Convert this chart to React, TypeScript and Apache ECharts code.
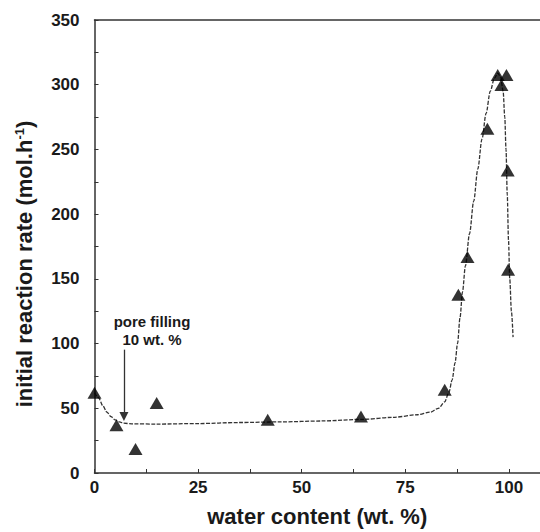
import React, { useEffect, useRef } from "react";
import * as echarts from "echarts";

// Measured points (water content wt.%, initial reaction rate mol.h-1)
const waterContent = [0, 5.3, 9.9, 15.0, 41.8, 64.3, 84.5, 87.8, 90.0, 94.8, 97.3, 98.2, 99.4, 99.7, 99.8];
const reactionRate = [62, 36.8, 18.5, 54, 41.2, 43.7, 64.3, 137.7, 166.8, 265.9, 307.6, 299.8, 307.6, 233.7, 157];

// Dashed fitted curve
const fitX = [0, 1, 2, 3, 4, 5, 6, 7, 9, 15, 25, 35, 45, 55, 65, 72, 78, 81, 83, 84.5, 85.5, 86.3, 87, 87.6, 88.2, 88.8, 89.5, 90.5, 91.5, 92.5, 93.5, 94.5, 95.5, 96.5, 97.3, 98, 98.6, 99, 99.3, 99.6, 99.9, 100.2, 100.6, 101];
const fitY = [62, 58, 52, 47, 43.5, 41, 39.5, 38.5, 38, 37.8, 38.2, 39, 39.5, 40.2, 41.5, 43, 45, 47, 50, 55, 62, 72, 85, 100, 120, 140, 160, 185, 210, 235, 258, 278, 295, 305, 309, 306, 295, 275, 250, 215, 180, 150, 125, 105];

// Axis ticks
const xTickLabels = [0, 25, 50, 75, 100];
const yTickLabels = [0, 50, 100, 150, 200, 250, 300, 350];

// Annotation arrow (data coords)
const arrowX = 7.1;
const arrowFrom = 95.3;
const arrowTo = 43.7;
const annotation = ["pore filling", "10 wt. %"];

const FONT = "Liberation Sans, Arial, Helvetica, sans-serif";
const AXIS = "#333";

export default function App() {
  const ref = useRef<HTMLDivElement>(null);

  useEffect(() => {
    document.body.style.margin = "0";
    const chart = echarts.init(ref.current!, null, { renderer: "svg" });
    const pts = waterContent.map((x, i) => [x, reactionRate[i]]);
    const fit = fitX.map((x, i) => [x, fitY[i]]);
    chart.setOption({
      animation: false,
      backgroundColor: "#fff",
      grid: { left: 94.5, top: 20, right: 0, bottom: 58.7 },
      xAxis: [
        {
          type: "value",
          min: 0,
          max: 107.5,
          interval: 12.5,
          splitLine: { show: false },
          axisLine: { lineStyle: { color: AXIS, width: 1.5 } },
          axisTick: { inside: true, length: 4, lineStyle: { color: AXIS, width: 1 } },
          axisLabel: {
            margin: 6,
            fontFamily: FONT,
            fontWeight: "bold",
            fontSize: 17,
            color: "#1a1a1a",
            showMaxLabel: false,
            formatter: (v: number) => (xTickLabels.includes(v) ? String(v) : ""),
          },
          name: "water content (wt. %)",
          nameLocation: "middle",
          nameGap: 32,
          nameTextStyle: { fontFamily: FONT, fontWeight: "bold", fontSize: 22, color: "#1a1a1a" },
        },
        {
          type: "value",
          position: "top",
          min: 0,
          max: 107.5,
          splitLine: { show: false },
          axisLine: { lineStyle: { color: AXIS, width: 1.5 } },
          axisTick: { show: false },
          axisLabel: { show: false },
        },
      ],
      yAxis: {
        type: "value",
        min: 0,
        max: 350,
        interval: 25,
        splitLine: { show: false },
        axisLine: { lineStyle: { color: AXIS, width: 1.5 } },
        axisTick: { inside: true, length: 4, lineStyle: { color: AXIS, width: 1 } },
        axisLabel: {
          margin: 15,
          fontFamily: FONT,
          fontWeight: "bold",
          fontSize: 17,
          color: "#1a1a1a",
          formatter: (v: number) => (yTickLabels.includes(v) ? String(v) : ""),
        },
      },
      graphic: [
        {
          type: "text",
          x: 24,
          y: 264,
          rotation: Math.PI / 2,
          style: {
            text: "{a|initial reaction rate (mol.h}{s|-1}{a|)}",
            align: "center",
            verticalAlign: "middle",
            rich: {
              a: { fontFamily: FONT, fontWeight: "bold", fontSize: 22, fill: "#1a1a1a" },
              s: { fontFamily: FONT, fontWeight: "bold", fontSize: 13, fill: "#1a1a1a", verticalAlign: "top", padding: [0, 0, 10, 0] },
            },
          },
        },
        {
          type: "text",
          x: 152,
          y: 321,
          style: { text: annotation[0], align: "center", verticalAlign: "middle", fontFamily: FONT, fontWeight: "bold", fontSize: 15, fill: "#1a1a1a" },
        },
        {
          type: "text",
          x: 152,
          y: 339,
          style: { text: annotation[1], align: "center", verticalAlign: "middle", fontFamily: FONT, fontWeight: "bold", fontSize: 15, fill: "#1a1a1a" },
        },
      ],
      series: [
        {
          type: "line",
          data: fit,
          showSymbol: false,
          smooth: 0.3,
          smoothMonotone: "x",
          lineStyle: { color: "#333", width: 1.3, type: [4, 1.5] },
          silent: true,
          markLine: {
            silent: true,
            symbol: ["none", "triangle"],
            symbolSize: [9, 9],
            label: { show: false },
            lineStyle: { color: "#333", width: 1.3, type: "solid" },
            data: [[{ coord: [arrowX, arrowFrom] }, { coord: [arrowX, arrowTo] }]],
          },
        },
        {
          type: "scatter",
          data: pts,
          symbol: "triangle",
          symbolSize: [14, 12],
          itemStyle: { color: "#000" },
          z: 5,
        },
      ],
    });
    return () => chart.dispose();
  }, []);

  return <div ref={ref} style={{ position: "absolute", left: 0, top: 0, width: 540, height: 532 }} />;
}
